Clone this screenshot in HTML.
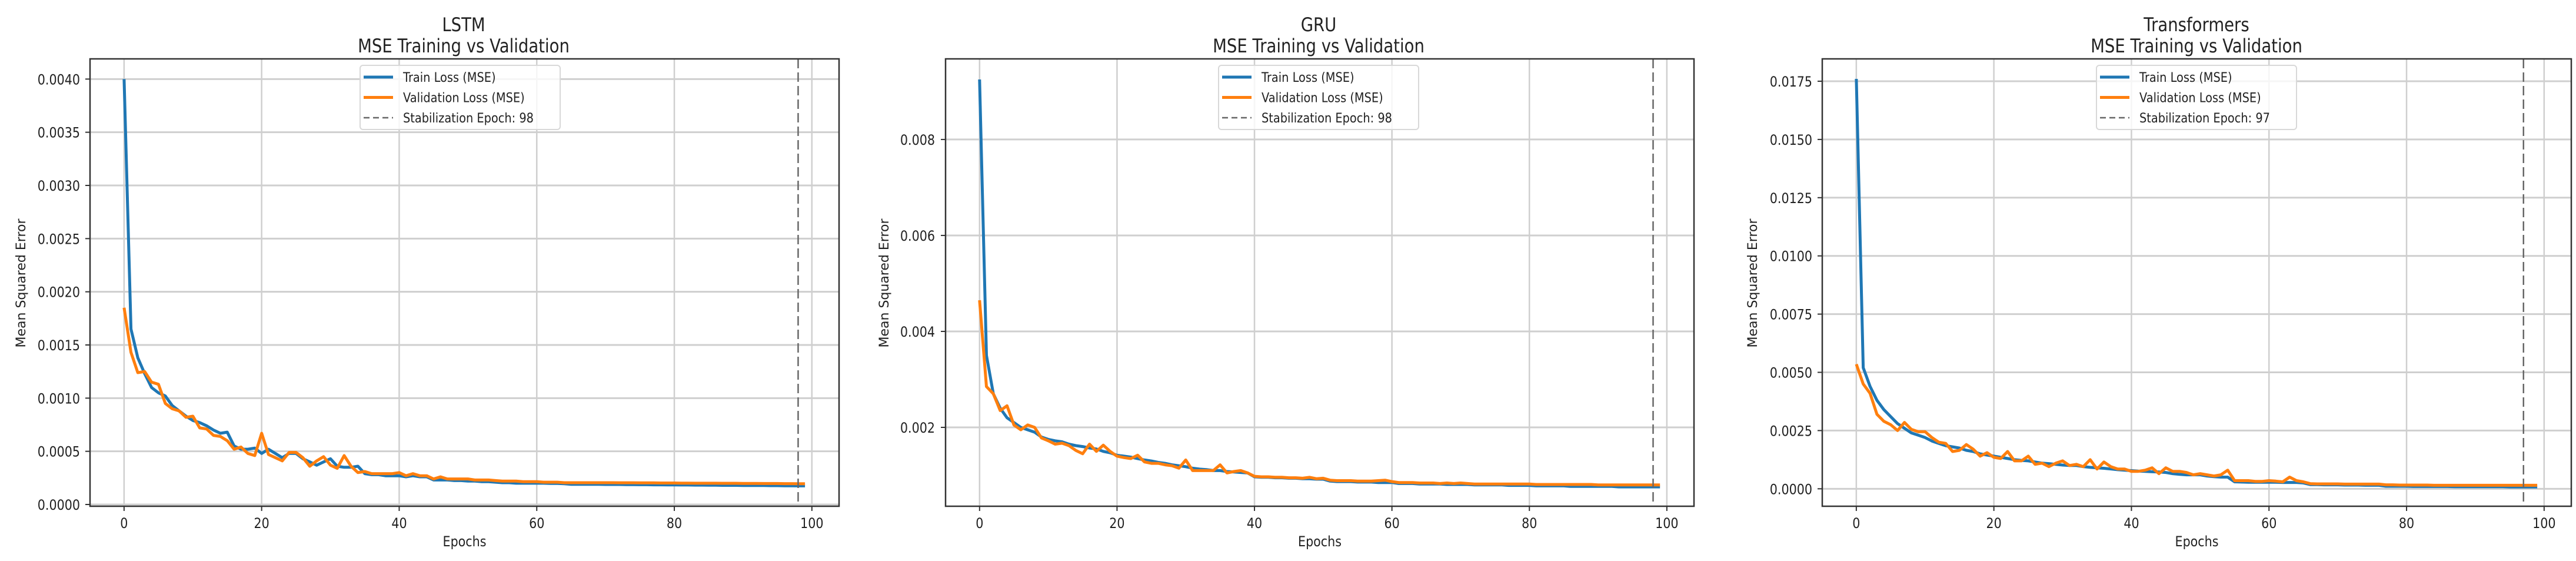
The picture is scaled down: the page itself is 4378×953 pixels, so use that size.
<!DOCTYPE html>
<html><head><meta charset="utf-8"><style>
html,body{margin:0;padding:0;background:#fff;}
svg{display:block;}
text{font-family:"DejaVu Sans","Liberation Sans",sans-serif;fill:#222;}
</style></head><body>
<svg id="fig" width="4378" height="953" viewBox="0 0 4378 953" xmlns="http://www.w3.org/2000/svg"></svg>
<script>
const epochs = Array.from({length:100},(_,i)=>i);
// LSTM (x1e-4)
const lstmTrain = [40,16.5,13.8,12.3,11,10.5,10.2,9.3,8.8,8.3,7.9,7.7,7.4,7,6.7,6.8,5.5,5.2,5.2,5.3,4.8,5.2,4.8,4.4,4.8,4.8,4.3,4.0,3.7,4.0,4.3,3.6,3.5,3.5,3.6,2.9,2.8,2.8,2.7,2.7,2.7,2.6,2.7,2.6,2.6,2.3,2.3,2.3,2.25,2.25,2.2,2.2,2.15,2.15,2.1,2.05,2.05,2.0,2.0,2.0,2.0,2.0,1.98,1.98,1.95,1.9,1.9,1.9,1.9,1.9,1.88,1.88,1.88,1.87,1.87,1.86,1.86,1.85,1.85,1.84,1.84,1.83,1.83,1.82,1.82,1.81,1.81,1.8,1.8,1.8,1.79,1.79,1.78,1.78,1.77,1.77,1.76,1.76,1.75,1.75];
const lstmVal = [18.5,14.3,12.4,12.5,11.5,11.3,9.5,9.0,8.8,8.2,8.3,7.2,7.1,6.5,6.4,6.0,5.2,5.4,4.8,4.6,6.7,4.7,4.4,4.1,4.9,4.9,4.4,3.6,4.1,4.5,3.7,3.4,4.6,3.6,3.0,3.1,2.9,2.9,2.9,2.9,3.0,2.7,2.9,2.7,2.7,2.4,2.6,2.4,2.4,2.4,2.4,2.3,2.3,2.3,2.25,2.2,2.2,2.2,2.15,2.15,2.15,2.1,2.1,2.1,2.05,2.05,2.05,2.05,2.05,2.05,2.05,2.05,2.04,2.04,2.04,2.03,2.03,2.03,2.02,2.02,2.02,2.01,2.01,2.0,2.0,2.0,2.0,1.99,1.99,1.99,1.98,1.98,1.98,1.97,1.97,1.97,1.96,1.96,1.95,1.95];
// GRU (x1e-3)
const gruTrain = [9.25,3.5,2.7,2.4,2.2,2.1,2.0,1.95,1.9,1.8,1.75,1.72,1.7,1.65,1.62,1.6,1.57,1.55,1.5,1.47,1.42,1.4,1.38,1.35,1.32,1.3,1.27,1.25,1.22,1.2,1.18,1.15,1.13,1.12,1.1,1.1,1.08,1.07,1.06,1.05,0.97,0.96,0.96,0.95,0.95,0.94,0.94,0.93,0.93,0.92,0.92,0.88,0.87,0.87,0.87,0.86,0.86,0.86,0.85,0.85,0.85,0.83,0.83,0.83,0.82,0.82,0.82,0.82,0.81,0.81,0.81,0.81,0.8,0.8,0.8,0.8,0.8,0.79,0.79,0.79,0.79,0.78,0.78,0.78,0.78,0.78,0.77,0.77,0.77,0.77,0.77,0.77,0.77,0.76,0.76,0.76,0.76,0.76,0.76,0.76];
const gruVal = [4.65,2.85,2.7,2.35,2.45,2.05,1.95,2.05,2.0,1.78,1.72,1.65,1.67,1.62,1.52,1.45,1.65,1.5,1.63,1.5,1.4,1.37,1.35,1.42,1.28,1.25,1.25,1.22,1.2,1.15,1.32,1.1,1.1,1.1,1.1,1.22,1.05,1.08,1.1,1.05,0.98,0.97,0.97,0.96,0.96,0.95,0.95,0.94,0.96,0.93,0.94,0.9,0.89,0.89,0.89,0.88,0.88,0.88,0.89,0.9,0.87,0.85,0.85,0.85,0.84,0.84,0.84,0.83,0.84,0.83,0.84,0.83,0.82,0.82,0.82,0.82,0.82,0.82,0.82,0.82,0.82,0.81,0.81,0.81,0.81,0.81,0.81,0.81,0.81,0.81,0.8,0.8,0.8,0.8,0.8,0.8,0.8,0.8,0.8,0.8];
// Transformers (x1e-3)
const trTrain = [17.6,5.2,4.4,3.8,3.4,3.1,2.8,2.6,2.4,2.3,2.2,2.05,1.95,1.85,1.8,1.75,1.65,1.6,1.5,1.45,1.4,1.35,1.3,1.25,1.22,1.2,1.15,1.1,1.08,1.05,1.02,1.0,1.0,0.95,0.92,0.9,0.88,0.85,0.82,0.8,0.78,0.76,0.75,0.73,0.72,0.7,0.65,0.62,0.6,0.6,0.6,0.55,0.52,0.5,0.5,0.3,0.29,0.28,0.28,0.28,0.28,0.28,0.27,0.27,0.27,0.25,0.18,0.18,0.17,0.17,0.17,0.16,0.16,0.16,0.15,0.15,0.15,0.11,0.11,0.11,0.11,0.1,0.1,0.1,0.1,0.1,0.1,0.09,0.09,0.09,0.09,0.09,0.09,0.09,0.09,0.08,0.08,0.08,0.08,0.08];
const trVal = [5.35,4.5,4.1,3.2,2.9,2.75,2.5,2.85,2.55,2.45,2.45,2.2,2.0,1.95,1.6,1.65,1.9,1.7,1.4,1.55,1.35,1.3,1.6,1.2,1.2,1.4,1.05,1.1,0.95,1.1,1.2,1.0,1.05,0.95,1.25,0.85,1.15,0.95,0.85,0.85,0.75,0.75,0.8,0.9,0.65,0.9,0.75,0.75,0.7,0.6,0.65,0.6,0.55,0.6,0.8,0.35,0.35,0.35,0.32,0.32,0.35,0.33,0.3,0.5,0.35,0.3,0.22,0.21,0.21,0.21,0.21,0.2,0.2,0.2,0.2,0.2,0.2,0.17,0.17,0.16,0.16,0.16,0.16,0.16,0.15,0.15,0.15,0.15,0.15,0.15,0.15,0.15,0.15,0.15,0.15,0.15,0.15,0.15,0.15,0.15];
const xTicks = [0,20,40,60,80,100];
const lstmYTicks = [0,0.0005,0.001,0.0015,0.002,0.0025,0.003,0.0035,0.004];
const gruYTicks = [0.002,0.004,0.006,0.008];
const trYTicks = [0,0.0025,0.005,0.0075,0.01,0.0125,0.015,0.0175];
const stabEpochs = [98,98,97];

const NS="http://www.w3.org/2000/svg";
const svg=document.getElementById('fig');
function mk(tag,attrs,parent){const e=document.createElementNS(NS,tag);for(const k in attrs)e.setAttribute(k,attrs[k]);(parent||svg).appendChild(e);return e;}
function txt(s,x,y,size,anchor,parent,sx){const t=mk('text',{transform:`translate(${x},${y}) scale(${sx||0.86},1)`,'font-size':size,'text-anchor':anchor||'start'},parent);t.textContent=s;return t;}

const panels=[
 {key:'lstm',title:'LSTM',L:153,R:1426,T:100,B:860,ymin:-0.0000166,ymax:0.00419,train:lstmTrain,val:lstmVal,scale:1e-4,ticks:lstmYTicks,dec:4,ylabX:35,tickR:136,titleX:788,legX:612},
 {key:'gru',title:'GRU',L:1607,R:2879,T:100,B:860,ymin:0.000356,ymax:0.00968,train:gruTrain,val:gruVal,scale:1e-3,ticks:gruYTicks,dec:3,ylabX:1502,tickR:1589,titleX:2241,legX:2071},
 {key:'transformers',title:'Transformers',L:3097,R:4370,T:100,B:860,ymin:-0.00075,ymax:0.01846,train:trTrain,val:trVal,scale:1e-3,ticks:trYTicks,dec:4,ylabX:2978,tickR:3080,titleX:3733,legX:3563}
];

panels.forEach((p,pi)=>{
  const g=mk('g',{});
  
  
  const xs=e=>p.L+(e+4.95)/108.9*(p.R-p.L);
  const ys=v=>p.B-(v-p.ymin)/(p.ymax-p.ymin)*(p.B-p.T);
  xTicks.forEach(t=>{const l=mk('line',{x1:xs(t),x2:xs(t),y1:p.T,y2:p.B,stroke:'#cfcfcf','stroke-width':2.5},g);});
  p.ticks.forEach(t=>{const l=mk('line',{x1:p.L,x2:p.R,y1:ys(t),y2:ys(t),stroke:'#cfcfcf','stroke-width':3},g);});
  const pts=a=>a.map((v,i)=>xs(epochs[i]).toFixed(1)+','+ys(v*p.scale).toFixed(1)).join(' ');
  const tl=mk('polyline',{points:pts(p.train),fill:'none',stroke:'#1f77b4','stroke-width':5,'stroke-linejoin':'round'},g);
  
  
  const vl=mk('polyline',{points:pts(p.val),fill:'none',stroke:'#ff7f0e','stroke-width':5,'stroke-linejoin':'round'},g);
  
  
  const sl=mk('line',{x1:xs(stabEpochs[pi]),x2:xs(stabEpochs[pi]),y1:p.T,y2:p.B,stroke:'#666','stroke-width':2.5,'stroke-dasharray':'16,7'},g);
  
  
  const fr=mk('rect',{x:p.L,y:p.T,width:p.R-p.L,height:p.B-p.T,fill:'none',stroke:'#333','stroke-width':2.5},g);
  
  
  xTicks.forEach(t=>{mk('line',{x1:xs(t),x2:xs(t),y1:p.B,y2:p.B+8,stroke:'#333','stroke-width':2},g);const tt=txt(String(t),xs(t),p.B+37,24,'middle',g);});
  p.ticks.forEach(t=>{mk('line',{x1:p.L-8,x2:p.L,y1:ys(t),y2:ys(t),stroke:'#333','stroke-width':2},g);const tt=txt(t.toFixed(p.dec),p.tickR,ys(t)+9,24,'end',g);});
  const xl=txt('Epochs',(p.L+p.R)/2,928,24,'middle',g);
  
  
  const yl=mk('text',{transform:`translate(${p.ylabX+8},481) rotate(-90)`,'font-size':22,'text-anchor':'middle'},g);
  yl.textContent='Mean Squared Error';
  
  
  const t1=txt(p.title,p.titleX,53,32,'middle',g);
  
  
  const t2=txt('MSE Training vs Validation',p.titleX,89,32,'middle',g);
  
  
  const lg=mk('g',{},g);
  
  
  mk('rect',{x:p.legX,y:111,width:340,height:109,rx:5,fill:'#fff','fill-opacity':0.8,stroke:'#d8d8d8','stroke-width':2},lg);
  const items=[['Train Loss (MSE)','#1f77b4',''],['Validation Loss (MSE)','#ff7f0e',''],['Stabilization Epoch: '+stabEpochs[pi],'#666','10,6']];
  items.forEach((it,i)=>{
    const y=131+i*34.5;
    const e=mk('g',{},lg);
    
    
    mk('line',{x1:p.legX+6,x2:p.legX+56,y1:y,y2:y,stroke:it[1],'stroke-width':it[2]?2.5:5,'stroke-dasharray':it[2]||'none'},e);
    txt(it[0],p.legX+73,y+8,22,'start',e,0.88);
  });
});
</script>
</body></html>
